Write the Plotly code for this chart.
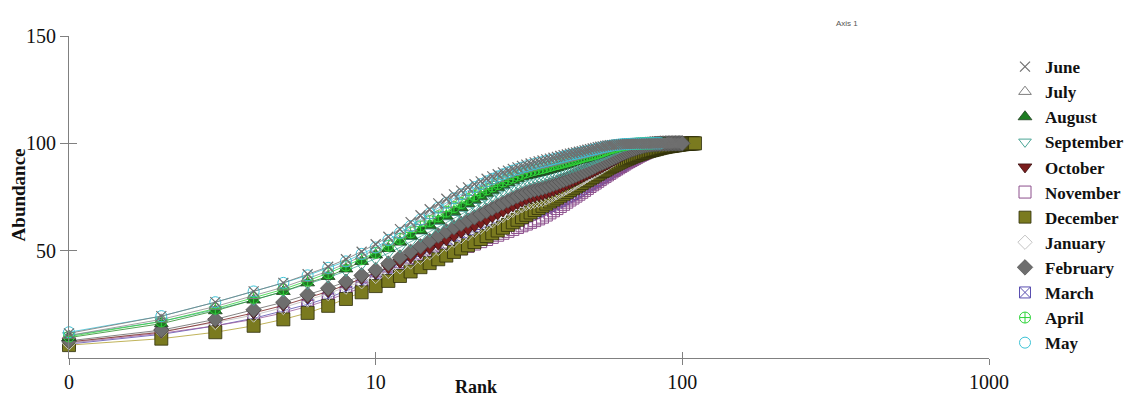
import plotly.graph_objects as go

# ---------------- data (cumulative abundance % by species rank) ----------------
months = ["June", "July", "August", "September", "October", "November",
          "December", "January", "February", "March", "April", "May"]

june = [11.5, 19.5, 26, 31, 35, 39, 42.5, 46, 49.5, 53,
        56.5, 60, 63.3, 66.5, 69.3, 72, 74.2, 76.2, 78, 79.5,
        81, 82.3, 83.5, 84.6, 85.6, 86.5, 87.3, 88.1, 88.8, 89.5,
        90.1, 90.6, 91.1, 91.6, 92, 92.5, 92.9, 93.3, 93.7, 94.1,
        94.5, 94.8, 95.2, 95.5, 95.8, 96.1, 96.4, 96.7, 97, 97.3,
        97.6, 97.9, 98.2, 98.4, 98.6, 98.8, 99, 99.1, 99.2, 99.3,
        99.4, 99.5, 99.55, 99.6, 99.65, 99.7, 99.72, 99.74, 99.76, 99.78,
        99.8, 99.82, 99.84, 99.86, 99.87, 99.88, 99.89, 99.9, 99.91, 99.92,
        99.93, 99.94, 99.95, 99.96, 99.96, 99.97, 99.97, 99.98, 99.98, 99.99,
        99.99, 99.99, 100, 100, 100]

july = [10.5, 18, 24, 29, 33, 37, 40.5, 44, 47.5, 50.5,
        54, 57.3, 60.5, 63.5, 66.3, 69, 71.3, 73.4, 75.3, 77,
        78.6, 80, 81.3, 82.5, 83.6, 84.6, 85.5, 86.3, 87, 87.7,
        88.3, 88.8, 89.3, 89.7, 90, 90.5, 90.9, 91.3, 91.7, 92.1,
        92.5, 92.9, 93.3, 93.7, 94, 94.4, 94.7, 95, 95.3, 95.6,
        95.9, 96.2, 96.5, 96.8, 97.1, 97.4, 97.7, 98, 98.2, 98.4,
        98.6, 98.8, 99, 99.15, 99.3, 99.4, 99.5, 99.58, 99.65, 99.7,
        99.75, 99.8, 99.83, 99.86, 99.88, 99.9, 99.91, 99.92, 99.93, 99.94,
        99.95, 99.96, 99.96, 99.97, 99.97, 99.98, 99.98, 99.99, 99.99, 99.99,
        100, 100]

august = [9.5, 16, 22, 27, 31, 35, 38, 41.5, 45, 48,
          51, 54, 56.8, 59.4, 61.8, 64, 66.1, 68.1, 70.1, 72,
          73.7, 75.3, 76.8, 78.2, 79.5, 80.7, 81.8, 82.8, 83.7, 84.5,
          85, 85.5, 86, 86.4, 86.8, 87.3, 87.8, 88.3, 88.8, 89.3,
          89.8, 90.3, 90.8, 91.3, 91.8, 92.2, 92.6, 93, 93.4, 93.8,
          94.2, 94.6, 95, 95.4, 95.8, 96.2, 96.6, 97, 97.3, 97.6,
          97.9, 98.2, 98.5, 98.75, 99, 99.2, 99.35, 99.5, 99.6, 99.68,
          99.74, 99.8, 99.84, 99.87, 99.9, 99.92, 99.94, 99.95, 99.96, 99.97,
          99.98, 99.98, 99.99, 99.99, 99.99, 100, 100, 100]

september = [10.5, 17, 22.5, 27, 31, 34.5, 37.5, 40.5, 43.5, 46,
             48.8, 51.5, 54, 56.5, 58.8, 61, 63.1, 65.1, 67.1, 69,
             70.7, 72.3, 73.8, 75.2, 76.5, 77.7, 78.8, 79.8, 80.8, 81.7,
             82.5, 83.1, 83.6, 84, 84.4, 84.9, 85.4, 85.9, 86.4, 86.9,
             87.4, 87.9, 88.4, 88.9, 89.4, 89.9, 90.4, 90.9, 91.4, 91.9,
             92.4, 92.9, 93.4, 93.9, 94.4, 94.9, 95.4, 95.9, 96.4, 96.9,
             97.3, 97.7, 98.1, 98.45, 98.8, 99.05, 99.3, 99.5, 99.65, 99.78,
             99.85, 99.9, 99.93, 99.95, 99.97, 99.98, 99.99, 99.99, 100, 100,
             100, 100]

october = [7.5, 12, 17, 21, 24.5, 28, 31, 34, 37, 39.5,
           42, 44.5, 46.8, 49, 51, 53, 55, 56.8, 58.5, 60,
           61.5, 63, 64.4, 65.8, 67.1, 68.4, 69.6, 70.8, 71.9, 73,
           73.9, 74.6, 75.2, 75.7, 76.2, 76.8, 77.4, 78, 78.7, 79.4,
           80.1, 80.8, 81.5, 82.2, 82.9, 83.6, 84.3, 85, 85.6, 86.2,
           86.8, 87.4, 88, 88.6, 89.2, 89.8, 90.4, 91, 91.6, 92.2,
           92.8, 93.4, 94, 94.5, 95, 95.5, 96, 96.4, 96.8, 97.2,
           97.6, 98, 98.3, 98.6, 98.85, 99.05, 99.2, 99.35, 99.48, 99.58,
           99.66, 99.73, 99.79, 99.84, 99.88, 99.91, 99.93, 99.95, 99.96, 99.97,
           99.98, 99.98, 99.99, 99.99, 99.99, 100, 100, 100]

november = [7, 11.5, 15, 18, 21, 24, 27, 30, 32.5, 35,
            37.2, 39.3, 41.3, 43.3, 45.2, 47, 48.4, 49.7, 50.9, 52,
            53.1, 54.2, 55.2, 56.2, 57.2, 58.1, 59, 59.9, 60.8, 61.6,
            62.4, 63.2, 64, 64.8, 65.6, 66.6, 67.6, 68.6, 69.6, 70.6,
            71.6, 72.6, 73.6, 74.5, 75.4, 76.3, 77.2, 78.1, 79, 79.9,
            80.7, 81.5, 82.3, 83.1, 83.9, 84.6, 85.3, 86, 86.7, 87.4,
            88, 88.6, 89.2, 89.8, 90.4, 91, 91.5, 92, 92.5, 93,
            93.5, 94, 94.4, 94.8, 95.2, 95.6, 96, 96.4, 96.7, 97,
            97.3, 97.6, 97.9, 98.15, 98.4, 98.6, 98.8, 99, 99.15, 99.3,
            99.4, 99.5, 99.6, 99.68, 99.75, 99.8, 99.85, 99.88, 99.91, 99.93,
            99.95, 99.96, 99.97, 99.98, 99.99, 99.99, 100, 100]

december = [6, 9, 12, 15, 18, 21, 24.3, 27.5, 30.6, 33.5,
            35.9, 38.2, 40.3, 42.3, 44.2, 46, 47.7, 49.4, 51, 52.5,
            54, 55.4, 56.8, 58.1, 59.4, 60.7, 62, 63.2, 64.4, 65.6,
            66.7, 67.8, 68.9, 69.9, 70.9, 71.9, 72.9, 73.8, 74.7, 75.6,
            76.5, 77.4, 78.3, 79.1, 79.9, 80.7, 81.5, 82.3, 83, 83.7,
            84.4, 85.1, 85.8, 86.5, 87.1, 87.7, 88.3, 88.9, 89.5, 90,
            90.5, 91, 91.5, 92, 92.4, 92.8, 93.2, 93.6, 94, 94.3,
            94.6, 94.9, 95.2, 95.5, 95.8, 96.1, 96.3, 96.5, 96.7, 96.9,
            97.1, 97.3, 97.5, 97.7, 97.9, 98.05, 98.2, 98.35, 98.5, 98.6,
            98.7, 98.8, 98.9, 99, 99.1, 99.2, 99.3, 99.4, 99.5, 99.58,
            99.65, 99.72, 99.78, 99.83, 99.87, 99.91, 99.94, 99.97, 99.99, 100]

january = [7, 12.5, 16.5, 20, 23.5, 27, 30, 33, 35.5, 38,
           40.3, 42.5, 44.7, 46.9, 49, 51, 53, 54.8, 56.5, 58,
           59.5, 61, 62.4, 63.8, 65.1, 66.4, 67.6, 68.8, 69.9, 71,
           71.9, 72.5, 73, 73.4, 73.8, 74.6, 75.4, 76.2, 77, 77.8,
           78.6, 79.4, 80.2, 81, 81.8, 82.6, 83.4, 84.2, 85, 85.7,
           86.4, 87.1, 87.8, 88.5, 89.2, 89.9, 90.6, 91.3, 92, 92.7,
           93.4, 94.1, 94.8, 95.4, 96, 96.6, 97.1, 97.6, 98, 98.4,
           98.7, 99, 99.25, 99.45, 99.6, 99.72, 99.8, 99.86, 99.9, 99.93,
           99.95, 99.96, 99.97, 99.98, 99.98, 99.99, 99.99, 100, 100, 100]

february = [8, 13, 18, 22.5, 26, 29.5, 32.5, 35.5, 38.5, 41,
            44, 46.8, 49.5, 52, 54.5, 57, 59, 60.8, 62.5, 64,
            65.5, 67, 68.4, 69.7, 71, 72.2, 73.3, 74.4, 75.4, 76.3,
            77.1, 77.8, 78.4, 78.8, 79.2, 79.8, 80.4, 81, 81.6, 82.2,
            82.8, 83.4, 84, 84.6, 85.2, 85.8, 86.4, 87, 87.6, 88.2,
            88.8, 89.4, 90, 90.5, 91, 91.5, 92, 92.5, 93, 93.5,
            94, 94.5, 95, 95.4, 95.8, 96.2, 96.6, 97, 97.3, 97.6,
            97.9, 98.2, 98.45, 98.7, 98.9, 99.1, 99.25, 99.4, 99.5, 99.6,
            99.67, 99.73, 99.78, 99.82, 99.86, 99.89, 99.91, 99.93, 99.95, 99.96,
            99.97, 99.98, 99.98, 99.99, 99.99, 99.99, 100, 100, 100, 100]

march = [6.5, 11, 15, 18.5, 22, 25, 28, 31, 34, 36.5,
         38.7, 40.8, 42.8, 44.8, 46.8, 49, 50.6, 52.1, 53.6, 55,
         56.2, 57.3, 58.4, 59.4, 60.4, 61.4, 62.4, 63.3, 64.2, 65.1,
         66, 66.8, 67.6, 68.4, 69.2, 70, 70.8, 71.6, 72.4, 73.2,
         74, 74.8, 75.6, 76.4, 77.2, 78, 78.8, 79.6, 80.3, 81,
         81.7, 82.4, 83.1, 83.8, 84.5, 85.2, 85.9, 86.5, 87.1, 87.7,
         88.3, 88.9, 89.5, 90.1, 90.7, 91.3, 91.9, 92.5, 93, 93.5,
         94, 94.5, 95, 95.5, 95.9, 96.3, 96.7, 97.1, 97.5, 97.8,
         98.1, 98.4, 98.65, 98.9, 99.1, 99.25, 99.4, 99.5, 99.6, 99.68,
         99.75, 99.8, 99.85, 99.88, 99.91, 99.93, 99.95, 99.96, 99.97, 99.98,
         99.99, 99.99, 100, 100, 100]

april = [10, 17, 23, 28, 32, 36, 39.5, 43, 46, 49,
         52.3, 55.5, 58.5, 61.3, 63.8, 66, 68.2, 70.3, 72.2, 74,
         75.7, 77.2, 78.6, 79.9, 81.1, 82.2, 83.2, 84.1, 85, 85.8,
         86.5, 87.1, 87.6, 88, 88.4, 88.9, 89.4, 89.9, 90.3, 90.7,
         91.1, 91.5, 91.9, 92.3, 92.7, 93.1, 93.5, 93.9, 94.2, 94.5,
         94.8, 95.1, 95.5, 95.9, 96.3, 96.7, 97.1, 97.5, 97.8, 98.1,
         98.4, 98.7, 99, 99.2, 99.35, 99.5, 99.6, 99.7, 99.76, 99.82,
         99.86, 99.9, 99.92, 99.94, 99.96, 99.97, 99.98, 99.99, 100, 100]

may = [12, 19.5, 26, 31, 35, 38.5, 42, 45, 48.5, 51.5,
       55, 58.3, 61.5, 64.5, 67.3, 70, 72.3, 74.4, 76.3, 78,
       79.6, 81, 82.3, 83.5, 84.6, 85.6, 86.5, 87.3, 88, 88.7,
       89.3, 89.9, 90.4, 90.9, 91.3, 91.8, 92.2, 92.6, 93, 93.4,
       93.8, 94.2, 94.6, 94.9, 95.2, 95.5, 95.8, 96.1, 96.4, 96.7,
       97, 97.3, 97.6, 97.9, 98.2, 98.4, 98.6, 98.8, 99, 99.15,
       99.3, 99.4, 99.5, 99.58, 99.65, 99.7, 99.75, 99.8, 99.84, 99.87,
       99.9, 99.92, 99.94, 99.95, 99.96, 99.97, 99.98, 99.98, 99.99, 99.99,
       99.99, 100, 100, 100, 100]

series = {
    "June": june, "July": july, "August": august, "September": september,
    "October": october, "November": november, "December": december,
    "January": january, "February": february, "March": march,
    "April": april, "May": may,
}

x_tick_vals = [1, 10, 100, 1000]
x_tick_text = ["0", "10", "100", "1000"]
y_tick_vals = [50, 100, 150]

# ---------------- styles ----------------
styles = {
    "June":      dict(symbol="x-thin-open", color="#6f6f6f", fill="#6f6f6f", size=10, lw=1.2, line="#777777"),
    "July":      dict(symbol="triangle-up-open", color="#7d7d7d", fill="#7d7d7d", size=11, lw=1, line="#8a8a8a"),
    "August":    dict(symbol="triangle-up", color="#1f3f1f", fill="#1d7d22", size=12, lw=0.8, line="#2a8a2a"),
    "September": dict(symbol="triangle-down-open", color="#4aa596", fill="#4aa596", size=11, lw=1, line="#4aa596"),
    "October":   dict(symbol="triangle-down", color="#3a1010", fill="#7b1e1e", size=12, lw=0.8, line="#7b1e1e"),
    "November":  dict(symbol="square-open", color="#8c4f8c", fill="#8c4f8c", size=12, lw=1, line="#9a5a9a"),
    "December":  dict(symbol="square", color="#2e2e0a", fill="#7a7a1f", size=13, lw=0.8, line="#b0a030"),
    "January":   dict(symbol="diamond-open", color="#c4c4c4", fill="#c4c4c4", size=11, lw=1, line="#bbbbbb"),
    "February":  dict(symbol="diamond", color="#4a4a4a", fill="#6e6e6e", size=12, lw=0.6, line="#666666"),
    "March":     dict(symbol="square-x-open", color="#5a4fb0", fill="#5a4fb0", size=11, lw=1, line="#5a4fb0"),
    "April":     dict(symbol="circle-cross-open", color="#2fd43a", fill="#2fd43a", size=11, lw=1, line="#2fd43a"),
    "May":       dict(symbol="circle-open", color="#3cc3d6", fill="#3cc3d6", size=11, lw=1, line="#3cc3d6"),
}

draw_order = ["March", "November", "December", "January", "October", "February",
              "September", "August", "April", "July", "May", "June"]

fig = go.Figure()
for name in draw_order:
    vals = series[name]
    ranks = list(range(1, len(vals) + 1))
    s = styles[name]
    fig.add_trace(go.Scatter(
        x=ranks, y=vals, name=name, mode="lines+markers",
        showlegend=False, cliponaxis=False,
        line=dict(color=s["line"], width=0.8),
        marker=dict(symbol=s["symbol"], size=s["size"], color=s["fill"],
                    line=dict(color=s["color"], width=s["lw"])),
    ))

# legend entries (marker only, like the reference legend)
for name in months:
    s = styles[name]
    fig.add_trace(go.Scatter(
        x=[None], y=[None], name=name, mode="markers", showlegend=True,
        marker=dict(symbol=s["symbol"], size=min(s["size"], 12), color=s["fill"],
                    line=dict(color=s["color"], width=s["lw"])),
    ))

serif = "Liberation Serif"
axis_common = dict(showgrid=False, zeroline=False, linecolor="#808080", linewidth=1,
                   tickcolor="#808080", tickwidth=1)

fig.update_layout(
    width=1144, height=397,
    margin=dict(l=69, r=155, t=36, b=39, autoexpand=False),
    paper_bgcolor="white", plot_bgcolor="white",
    font=dict(family=serif, size=20, color="#111111"),
    showlegend=True,
    legend=dict(x=(1005 - 69) / 920, y=(358 - 49) / 322, xanchor="left", yanchor="top",
                font=dict(family=serif, size=17, color="#111111", weight="bold"),
                bgcolor="rgba(0,0,0,0)", itemwidth=30, tracegroupgap=0),
    xaxis=dict(type="log", range=[0, 3], tickvals=x_tick_vals, ticktext=x_tick_text,
               ticks="outside", ticklen=6, showline=True, **axis_common),
    yaxis=dict(range=[0, 150], tickvals=y_tick_vals, ticks="outside", ticklen=8,
               showline=True, **axis_common),
    xaxis2=dict(type="log", range=[0, 3], tickvals=x_tick_vals, overlaying="x", anchor="y",
                side="bottom", ticks="inside", ticklen=6, showticklabels=False,
                showline=False, showgrid=False, zeroline=False, tickcolor="#808080"),
    yaxis2=dict(range=[0, 150], tickvals=y_tick_vals, overlaying="y", anchor="x",
                side="left", ticks="inside", ticklen=8, showticklabels=False,
                showline=False, showgrid=False, zeroline=False, tickcolor="#808080"),
    annotations=[
        dict(text="Rank", x=(476 - 69) / 920, y=(358 - 387) / 322, xref="paper", yref="paper",
             showarrow=False, font=dict(family=serif, size=18, weight="bold", color="#111111"),
             yanchor="middle", xanchor="center"),
        dict(text="Abundance", x=-0.055, y=(358 - 195) / 322, xref="paper", yref="paper",
             showarrow=False, textangle=-90,
             font=dict(family=serif, size=19, weight="bold", color="#111111"),
             xanchor="center", yanchor="middle"),
        dict(text="Axis 1", x=(860 - 69) / 920, y=(358 - 17) / 322, xref="paper", yref="paper",
             showarrow=False,
             font=dict(family="Liberation Sans", size=8, color="#555555")),
    ],
)

# hidden helper trace so the overlay tick axes are rendered
fig.add_trace(go.Scatter(x=[1], y=[0], xaxis="x2", yaxis="y2", mode="markers",
                         marker=dict(opacity=0), showlegend=False, hoverinfo="skip"))

fig.write_html("out.html", config={"displayModeBar": False},
               post_script="document.body.style.margin='0';document.body.style.overflow='hidden';")
